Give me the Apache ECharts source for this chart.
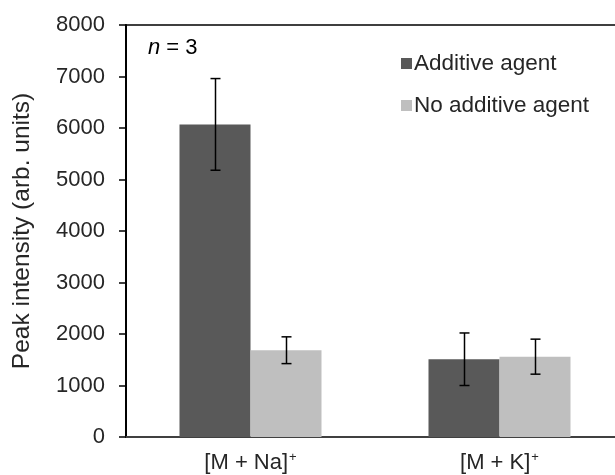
<!DOCTYPE html>
<html>
<head>
<meta charset="utf-8">
<script src="https://cdn.jsdelivr.net/npm/echarts@6/dist/echarts.min.js"></script>
<style>
  html, body { margin: 0; padding: 0; background: #fff; }
  #main { width: 615px; height: 475px; }
</style>
</head>
<body>
<div id="main"></div>
<script>
var categories = ['[M + Na]', '[M + K]'];
var seriesNames = ['Additive agent', 'No additive agent'];
var additive = [6070, 1510];
var additiveErr = [890, 510];
var noAdditive = [1685, 1560];
var noAdditiveErr = [260, 340];
var yTicks = [0, 1000, 2000, 3000, 4000, 5000, 6000, 7000, 8000];

var myChart = echarts.init(document.getElementById('main'));
var BAR_W = 71;
var FONT = '"Liberation Sans", Arial, sans-serif';

// error bars drawn with a custom series, shifted onto the matching bar
function errorSeries(values, errs, shift) {
  var data = values.map(function (v, i) { return [i, v - errs[i], v + errs[i]]; });
  return {
    type: 'custom',
    silent: true,
    z: 10,
    data: data,
    encode: { x: 0, y: [1, 2] },
    renderItem: function (params, api) {
      var lo = api.coord([api.value(0), api.value(1)]);
      var hi = api.coord([api.value(0), api.value(2)]);
      var x = Math.round(lo[0] + shift) + 0.5;
      var cap = 5;
      var st = { stroke: '#000', lineWidth: 1.5 };
      return {
        type: 'group',
        children: [
          { type: 'line', shape: { x1: x, y1: hi[1], x2: x, y2: lo[1] }, style: st },
          { type: 'line', shape: { x1: x - cap, y1: hi[1], x2: x + cap, y2: hi[1] }, style: st },
          { type: 'line', shape: { x1: x - cap, y1: lo[1], x2: x + cap, y2: lo[1] }, style: st }
        ]
      };
    }
  };
}

var option = {
  animation: false,
  textStyle: { fontFamily: FONT },
  grid: {
    left: 126, top: 25, bottom: 38, width: 498,
    outerBoundsMode: 'none',
    show: true, borderColor: '#000', borderWidth: 1.5, backgroundColor: 'transparent'
  },
  legend: {
    orient: 'vertical',
    left: 396, top: 47,
    itemWidth: 11, itemHeight: 11, itemGap: 19,
    icon: 'rect',
    textStyle: { fontSize: 22.5, color: '#262626', fontFamily: FONT, padding: [0, 0, 0, -3] },
    data: seriesNames
  },
  graphic: [{
    type: 'text',
    left: 148, top: 37,
    style: {
      text: '{i|n} = 3',
      fontSize: 22, fill: '#000', fontFamily: FONT,
      rich: { i: { fontStyle: 'italic', fontSize: 22, fontFamily: FONT } }
    }
  }],
  xAxis: {
    type: 'category',
    data: categories,
    axisLine: { lineStyle: { color: '#404040', width: 2 } },
    axisTick: { show: false },
    axisLabel: {
      fontSize: 22, color: '#262626', margin: 14,
      formatter: function (v) { return '{a|' + v + '}{s|+}'; },
      rich: {
        a: { fontSize: 22, color: '#262626', fontFamily: FONT },
        s: { fontSize: 13, color: '#262626', fontFamily: FONT, verticalAlign: 'top', padding: [0, 0, 10, 1] }
      }
    }
  },
  yAxis: {
    type: 'value',
    min: yTicks[0], max: yTicks[yTicks.length - 1], interval: 1000,
    name: 'Peak intensity (arb. units)',
    nameLocation: 'middle',
    nameGap: 91,
    nameTextStyle: { fontSize: 24.5, color: '#262626', fontFamily: FONT },
    axisLine: { show: true, lineStyle: { color: '#000', width: 2 } },
    axisTick: { show: true, length: 7, lineStyle: { color: '#000', width: 1.5 } },
    axisLabel: {
      fontSize: 22, color: '#262626', margin: 21,
      formatter: function (v) { return String(v); }
    },
    splitLine: { show: false }
  },
  series: [
    {
      name: seriesNames[0], type: 'bar', data: additive,
      barWidth: BAR_W, barGap: '0%',
      itemStyle: { color: '#595959' }
    },
    {
      name: seriesNames[1], type: 'bar', data: noAdditive,
      barWidth: BAR_W, barGap: '0%',
      itemStyle: { color: '#bfbfbf' }
    },
    errorSeries(additive, additiveErr, -BAR_W / 2),
    errorSeries(noAdditive, noAdditiveErr, BAR_W / 2)
  ]
};

myChart.setOption(option);
</script>
</body>
</html>
